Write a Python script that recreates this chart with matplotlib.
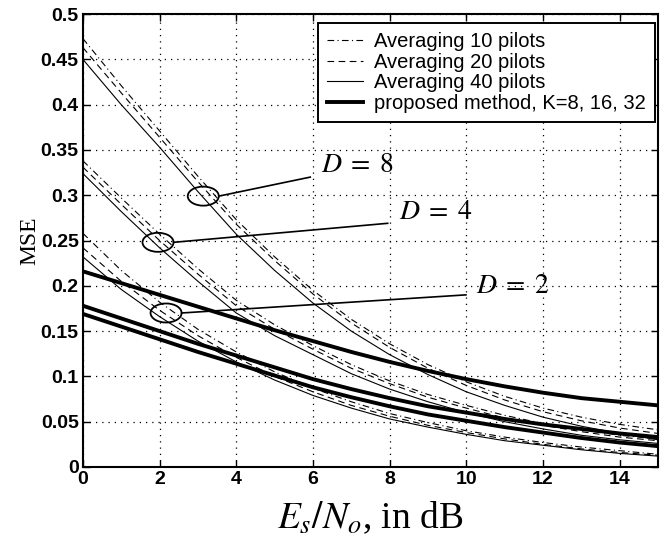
"""MSE versus Es/No: pilot averaging against the proposed estimator."""

import matplotlib

matplotlib.use("Agg")
import matplotlib.pyplot as plt
from matplotlib.patches import Ellipse

plt.rcParams.update(
    {
        "font.family": "Liberation Sans",
        "mathtext.fontset": "stix",
        "xtick.direction": "in",
        "ytick.direction": "in",
        "xtick.top": True,
        "ytick.right": True,
    }
)

snr_db = list(range(16))

# D = 8
d8_avg10 = [0.473, 0.421, 0.371, 0.321, 0.273, 0.232, 0.195, 0.163,
            0.136, 0.113, 0.094, 0.078, 0.065, 0.055, 0.047, 0.041]
d8_avg20 = [0.463, 0.413, 0.364, 0.315, 0.268, 0.228, 0.191, 0.159,
            0.132, 0.109, 0.090, 0.074, 0.061, 0.051, 0.043, 0.037]
d8_avg40 = [0.450, 0.400, 0.353, 0.304, 0.257, 0.217, 0.181, 0.150,
            0.124, 0.102, 0.083, 0.068, 0.055, 0.045, 0.037, 0.030]
# D = 4
d4_avg10 = [0.338, 0.297, 0.257, 0.219, 0.184, 0.157, 0.134, 0.113,
            0.095, 0.080, 0.068, 0.057, 0.048, 0.041, 0.035, 0.031]
d4_avg20 = [0.331, 0.290, 0.250, 0.213, 0.178, 0.152, 0.130, 0.109,
            0.092, 0.077, 0.065, 0.054, 0.046, 0.039, 0.033, 0.029]
d4_avg40 = [0.324, 0.282, 0.242, 0.205, 0.170, 0.145, 0.124, 0.103,
            0.086, 0.072, 0.060, 0.050, 0.042, 0.035, 0.030, 0.026]
# D = 2
d2_avg10 = [0.258, 0.217, 0.182, 0.152, 0.127, 0.105, 0.087, 0.072,
            0.059, 0.049, 0.040, 0.033, 0.027, 0.022, 0.018, 0.014]
d2_avg20 = [0.242, 0.205, 0.173, 0.145, 0.121, 0.100, 0.083, 0.068,
            0.056, 0.046, 0.038, 0.031, 0.025, 0.020, 0.016, 0.013]
d2_avg40 = [0.232, 0.196, 0.166, 0.139, 0.116, 0.096, 0.079, 0.065,
            0.053, 0.044, 0.036, 0.029, 0.024, 0.019, 0.015, 0.012]
# proposed method
prop_a = [0.216, 0.203, 0.190, 0.177, 0.164, 0.151, 0.139, 0.127,
          0.116, 0.106, 0.097, 0.089, 0.082, 0.076, 0.072, 0.068]
prop_b = [0.178, 0.164, 0.150, 0.136, 0.123, 0.110, 0.097, 0.086,
          0.076, 0.067, 0.060, 0.053, 0.047, 0.042, 0.037, 0.033]
prop_c = [0.169, 0.155, 0.141, 0.127, 0.114, 0.101, 0.088, 0.077,
          0.067, 0.058, 0.051, 0.044, 0.038, 0.032, 0.027, 0.023]

legend_labels = ["Averaging 10 pilots", "Averaging 20 pilots",
                 "Averaging 40 pilots", "proposed method, K=8, 16, 32"]

# circle centre, line end, text position for each D annotation
annot_text = [r"$D\;=\;8$", r"$D\;=\;4$", r"$D\;=\;2$"]
annot_circle = [(3.14, 0.299), (1.96, 0.248), (2.17, 0.170)]
annot_line_end = [(5.93, 0.320), (7.95, 0.269), (9.99, 0.190)]
annot_text_pos = [(6.2, 0.333), (8.24, 0.281), (10.25, 0.199)]

dashdot = (0, (6, 3, 1, 3))
dashed = (0, (6, 4))

fig = plt.figure(figsize=(6.63, 5.49), dpi=100)
ax = fig.add_axes([0.125, 0.1494, 0.8675, 0.825])

lw_thin = 0.8
for avg10, avg20, avg40 in [(d8_avg10, d8_avg20, d8_avg40),
                            (d4_avg10, d4_avg20, d4_avg40),
                            (d2_avg10, d2_avg20, d2_avg40)]:
    ax.plot(snr_db, avg10, color="black", lw=lw_thin, ls=dashdot)
    ax.plot(snr_db, avg20, color="black", lw=lw_thin, ls=dashed)
    ax.plot(snr_db, avg40, color="black", lw=lw_thin, ls="-")

for prop in (prop_a, prop_b, prop_c):
    ax.plot(snr_db, prop, color="black", lw=2.8, solid_capstyle="butt")

for (cx, cy), (lx, ly), (tx, ty), txt in zip(annot_circle, annot_line_end,
                                           annot_text_pos, annot_text):
    ax.add_patch(Ellipse((cx, cy), 0.81, 0.021, fill=False,
                         edgecolor="black", lw=1.3, zorder=5))
    ax.plot([cx + 0.405, lx], [cy, ly], color="black", lw=1.2, zorder=5)
    ax.text(tx, ty, txt, fontsize=20, ha="left", va="center",
            family="Liberation Serif")

handles = [
    plt.Line2D([], [], color="black", lw=lw_thin, ls=dashdot),
    plt.Line2D([], [], color="black", lw=lw_thin, ls=dashed),
    plt.Line2D([], [], color="black", lw=lw_thin, ls="-"),
    plt.Line2D([], [], color="black", lw=2.8),
]
leg = ax.legend(handles, legend_labels, loc="upper right",
                bbox_to_anchor=(0.995, 0.98), fontsize=14.5,
                handlelength=1.8, handletextpad=0.55, labelspacing=0.08,
                borderpad=0.45, borderaxespad=0, fancybox=False,
                framealpha=1)
leg.get_frame().set_edgecolor("black")
leg.get_frame().set_linewidth(1.4)

ax.set_xlim(0, 15)
ax.set_ylim(0, 0.5)
ax.set_xticks([0, 2, 4, 6, 8, 10, 12, 14])
ax.set_yticks([0, 0.05, 0.1, 0.15, 0.2, 0.25, 0.3, 0.35, 0.4, 0.45, 0.5])
ax.set_yticklabels(["0", "0.05", "0.1", "0.15", "0.2", "0.25", "0.3",
                    "0.35", "0.4", "0.45", "0.5"])
ax.tick_params(labelsize=14, length=5, width=1, pad=3)
for lbl in ax.get_xticklabels() + ax.get_yticklabels():
    lbl.set_fontweight("bold")
ax.grid(True, color="black", ls=(0, (1, 4)), lw=0.9)
for sp in ax.spines.values():
    sp.set_linewidth(1.5)

ax.set_ylabel("MSE", fontsize=17, family="Liberation Serif", labelpad=0)
ax.set_xlabel("$E_s/N_o$, in dB", fontsize=27, family="Liberation Serif",
              labelpad=8)

fig.savefig("out.png", dpi=100)
